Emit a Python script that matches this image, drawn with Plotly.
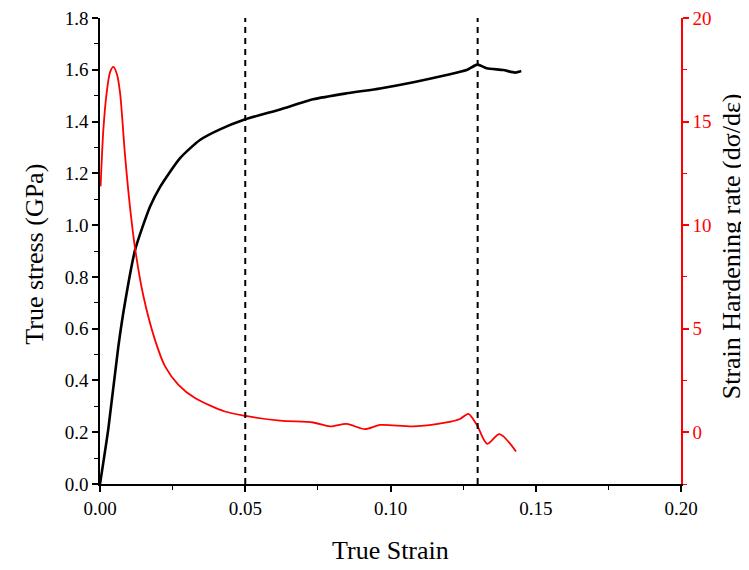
import plotly.graph_objects as go

# True stress-strain curve
stress_strain = [0.0, 0.0029, 0.0063, 0.0086, 0.0121, 0.0172, 0.0207, 0.0275, 0.0344, 0.0413,
                 0.0493, 0.062, 0.0734, 0.0849, 0.0964, 0.1079, 0.1193, 0.1262, 0.1299,
                 0.1331, 0.1388, 0.1429, 0.145]
stress_gpa = [0.0, 0.216, 0.53, 0.70, 0.905, 1.071, 1.148, 1.258, 1.329, 1.370,
              1.406, 1.447, 1.486, 1.509, 1.528, 1.552, 1.580, 1.599, 1.620,
              1.606, 1.599, 1.589, 1.595]

# Strain hardening rate curve
shr_strain = [0.0002, 0.00115, 0.0023, 0.0035, 0.0046, 0.0058, 0.0069, 0.0086, 0.0103, 0.0121,
              0.0149, 0.0189, 0.0224, 0.027, 0.0327, 0.043, 0.0496, 0.062, 0.0734, 0.0792,
              0.0849, 0.0912, 0.0964, 0.1079, 0.1193, 0.1239, 0.1268, 0.1297, 0.1333,
              0.1375, 0.1432]
shr_rate = [11.87, 14.6, 16.4, 17.4, 17.64, 17.3, 16.4, 13.4, 10.9, 8.85,
            6.6, 4.47, 3.18, 2.29, 1.65, 1.0, 0.80, 0.56, 0.47, 0.28,
            0.40, 0.15, 0.35, 0.28, 0.47, 0.64, 0.89, 0.36, -0.56,
            -0.09, -0.93]

marker_strains = [0.05, 0.13]

FONT = "Liberation Serif"

fig = go.Figure()
fig.add_trace(go.Scatter(x=stress_strain, y=stress_gpa, mode="lines",
                         line=dict(color="black", width=2.6, shape="spline", smoothing=0.6),
                         showlegend=False))
fig.add_trace(go.Scatter(x=shr_strain, y=shr_rate, mode="lines", yaxis="y2",
                         line=dict(color="red", width=1.8, shape="spline", smoothing=0.8),
                         showlegend=False))

for s in marker_strains:
    fig.add_shape(type="line", xref="x", yref="paper", x0=s, x1=s, y0=0, y1=1,
                  line=dict(color="black", width=2, dash="6px,5px"))

fig.add_annotation(text="True Strain", xref="paper", yref="paper", x=0.5, y=-0.142,
                   showarrow=False, font=dict(size=26, family=FONT, color="black"),
                   xanchor="center", yanchor="middle")
fig.add_annotation(text="True stress (GPa)", xref="paper", yref="paper", x=-0.112, y=0.494,
                   showarrow=False, textangle=-90, font=dict(size=26, family=FONT, color="black"),
                   xanchor="center", yanchor="middle")
fig.add_annotation(text="Strain Hardening rate (dσ/dε)", xref="paper", yref="paper", x=1.086, y=0.51,
                   showarrow=False, textangle=-90, font=dict(size=26, family=FONT, color="black"),
                   xanchor="center", yanchor="middle")

# page body has an 8px margin; compensate so the plot area lands where the reference has it
fig.update_layout(
    width=749, height=570,
    margin=dict(l=92, r=76, t=10, b=94),
    paper_bgcolor="white", plot_bgcolor="white",
    font=dict(family=FONT, color="black", size=19),
    xaxis=dict(range=[0, 0.2], tickvals=[0, 0.05, 0.1, 0.15, 0.2],
               ticktext=["0.00", "0.05", "0.10", "0.15", "0.20"], automargin=False,
               ticklabeloverflow="allow",
               showgrid=False, zeroline=False, showline=True, linecolor="black", linewidth=1.5,
               ticks="outside", ticklen=6, tickwidth=1.5, tickcolor="black",
               minor=dict(ticks="outside", dtick=0.025, ticklen=4, tickcolor="black", tickwidth=1.2),
               tickfont=dict(size=19, family=FONT)),
    yaxis=dict(range=[0, 1.8], dtick=0.2, tickformat=".1f", automargin=False,
               ticklabeloverflow="allow",
               showgrid=False, zeroline=False, showline=True, linecolor="black", linewidth=1.5,
               ticks="outside", ticklen=6, tickwidth=1.5, tickcolor="black",
               minor=dict(ticks="outside", dtick=0.1, ticklen=4, tickcolor="black", tickwidth=1.2),
               tickfont=dict(size=19, family=FONT)),
    yaxis2=dict(range=[-2.5, 20], tickvals=[0, 5, 10, 15, 20], overlaying="y", side="right",
                anchor="x", showgrid=False, zeroline=False, showline=True, automargin=False,
                ticklabeloverflow="allow",
                linecolor="red", linewidth=1.5, color="red",
                ticks="outside", ticklen=6, tickwidth=1.5, tickcolor="red",
                minor=dict(ticks="outside", dtick=2.5, ticklen=4, tickcolor="red", tickwidth=1.2),
                tickfont=dict(size=19, family=FONT, color="red")),
)

fig.write_html("out.html")
